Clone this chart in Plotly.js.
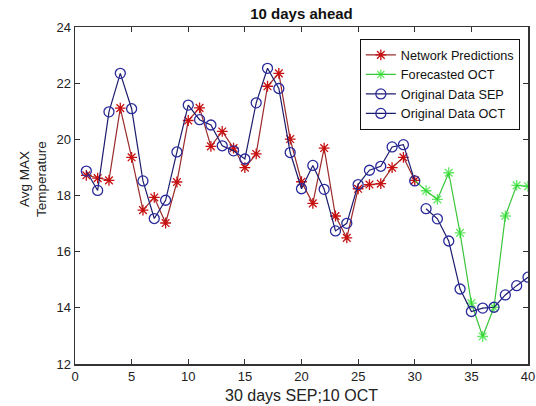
<!DOCTYPE html>
<html>
<head>
<meta charset="utf-8">
<script src="https://cdn.plot.ly/plotly-3.0.1.min.js"></script>
<style>html,body{margin:0;padding:0;background:#fff;}#chart{width:536px;height:406px;}</style>
</head>
<body>
<div id="chart"></div>
<script>
const daysSep = [1,2,3,4,5,6,7,8,9,10,11,12,13,14,15,16,17,18,19,20,21,22,23,24,25,26,27,28,29,30];
const daysOct = [31,32,33,34,35,36,37,38,39,40];
const daysForecast = [30,31,32,33,34,35,36,37,38,39,40];

const networkPredictions = [18.72,18.62,18.54,21.11,19.36,17.48,17.93,17.02,18.48,20.67,21.12,19.75,20.28,19.69,18.99,19.48,21.89,22.35,20.01,18.49,17.72,19.69,17.27,16.49,18.24,18.39,18.42,18.99,19.36,18.54];
const forecastedOct = [18.54,18.17,17.86,18.81,16.67,14.17,12.98,14.02,17.27,18.36,18.33];
const originalSep = [18.87,18.18,20.98,22.35,21.09,18.52,17.18,17.83,19.55,21.22,20.70,20.51,19.77,19.59,19.30,21.30,22.53,21.81,19.53,18.24,19.07,18.22,16.74,17.01,18.39,18.90,19.04,19.73,19.81,18.52];
const originalOct = [17.53,17.17,16.38,14.67,13.87,13.99,14.02,14.46,14.79,15.09];

const FONT = 'Liberation Sans, Arial, sans-serif';

// forecast line starts from the last prediction point, which carries no green marker
const forecastSizes = daysForecast.map(d => (d === daysSep[daysSep.length - 1] ? 0 : 9));

const traces = [
  {x: daysSep, y: networkPredictions, name: 'Network Predictions', mode: 'lines+markers',
   line: {color: '#9a2a2a', width: 1.2},
   marker: {symbol: 'asterisk-open', size: 9, color: '#c81010', line: {color: '#c81010', width: 1.3}}},
  {x: daysForecast, y: forecastedOct, name: 'Forecasted OCT', mode: 'lines+markers',
   line: {color: '#3cc43c', width: 1.2},
   marker: {symbol: 'asterisk-open', size: forecastSizes, color: '#22dd22', line: {color: '#22dd22', width: 1.3}}},
  {x: daysSep, y: originalSep, name: 'Original Data SEP', mode: 'lines+markers',
   line: {color: '#1c1c6e', width: 1.2},
   marker: {symbol: 'circle-open', size: 10, color: '#2a2a9c', line: {color: '#2a2a9c', width: 1.3}}},
  {x: daysOct, y: originalOct, name: 'Original Data OCT', mode: 'lines+markers',
   line: {color: '#1c1c6e', width: 1.2},
   marker: {symbol: 'circle-open', size: 10, color: '#2a2a9c', line: {color: '#2a2a9c', width: 1.3}}}
];

const axisFont = {family: FONT, size: 13, color: '#222'};

const layout = {
  width: 536, height: 406,
  margin: {l: 75, r: 8, t: 27, b: 42},
  paper_bgcolor: '#fff', plot_bgcolor: '#fff',
  title: {text: '<b>10 days ahead</b>', x: 0.5625, xanchor: 'center', y: 0.966, yanchor: 'middle',
          font: {family: FONT, size: 15, color: '#111'}},
  xaxis: {range: [0, 40], dtick: 5, tick0: 0, ticks: 'inside', ticklen: 5, tickcolor: '#333',
          showline: true, linecolor: '#333', linewidth: 1.5, mirror: 'ticks', showgrid: false, zeroline: false,
          tickfont: axisFont},
  yaxis: {range: [12, 24], dtick: 2, tick0: 12, ticks: 'inside', ticklen: 5, tickcolor: '#333',
          showline: true, linecolor: '#333', linewidth: 1.5, mirror: 'ticks', showgrid: false, zeroline: false,
          tickfont: axisFont},
  annotations: [
    {text: '30 days SEP;10 OCT', xref: 'paper', yref: 'paper', x: 0.5, y: -0.092, xanchor: 'center', yanchor: 'middle',
     showarrow: false, font: {family: FONT, size: 16, color: '#222'}},
    {text: 'Avg MAX<br>Temperature', xref: 'paper', yref: 'paper', x: -0.092, y: 0.55, xanchor: 'center', yanchor: 'middle',
     textangle: -90, showarrow: false, font: {family: FONT, size: 13.5, color: '#222'}}
  ],
  legend: {x: 0.982, xanchor: 'right', y: 0.964, yanchor: 'top', bgcolor: '#fff',
           bordercolor: '#111', borderwidth: 1,
           font: {family: FONT, size: 12.7, color: '#111'},
           tracegroupgap: 0, itemwidth: 30},
  showlegend: true
};

Plotly.newPlot('chart', traces, layout, {displayModeBar: false, staticPlot: true});
</script>
</body>
</html>
